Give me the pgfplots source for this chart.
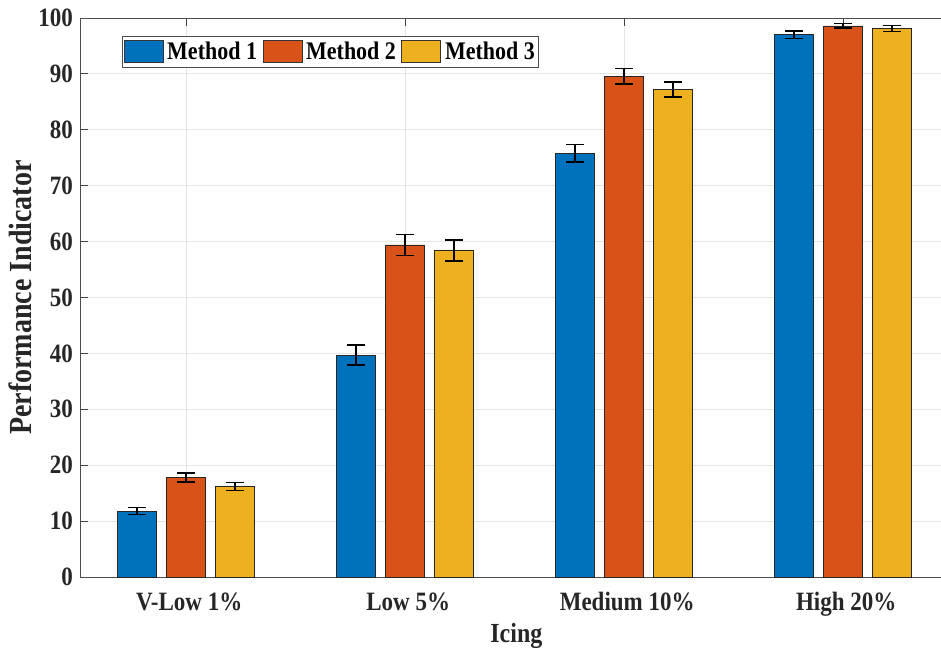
\documentclass[border=0pt]{standalone}
\usepackage{graphicx}
\usepackage{pgfplots}
\pgfplotsset{compat=1.18}
\usepackage{pgfplotstable}
\usepackage{fontspec}
\setmainfont{Liberation Serif}
\newcommand\st[1]{\scalebox{1}[1.15]{#1}}
\definecolor{m1}{rgb}{0,0.447,0.741}
\definecolor{m2}{rgb}{0.85,0.325,0.098}
\definecolor{m3}{rgb}{0.929,0.694,0.125}
\pgfplotstableread{
x y e
0 11.8 0.65
1 39.7 1.8
2 75.8 1.6
3 97.0 0.7
}\mone
\pgfplotstableread{
x y e
0 17.8 0.8
1 59.4 1.9
2 89.6 1.4
3 98.6 0.4
}\mtwo
\pgfplotstableread{
x y e
0 16.2 0.7
1 58.4 1.85
2 87.2 1.35
3 98.1 0.55
}\mthree
\begin{document}
\begin{tikzpicture}
\begin{axis}[
  at={(0pt,0pt)}, anchor=south west,
  scale only axis,
  width=872.7pt, height=559pt,
  xmin=-0.485, xmax=3.5,
  ymin=0, ymax=100,
  ytick={0,10,...,100},
  xtick={0,1,2,3},
  xticklabels={\st{V-Low 1\%}, \st{Low 5\%}, \st{Medium 10\%}, \st{High 20\%}},
  yticklabel={\st{\pgfmathprintnumber{\tick}}},
  ybar=10pt, bar width=39pt,
  tick align=inside,
  major tick length=8pt,
  tick style={black!75, line width=0.8pt},
  axis line style={black!70, line width=0.8pt},
  grid=major,
  grid style={black!10, line width=0.8pt},
  tick label style={font=\fontsize{23}{25}\selectfont\bfseries, text=black!85},
  xticklabel style={anchor=base, yshift=-33pt, xshift=3pt, inner sep=0pt},
  yticklabel style={anchor=east, xshift=-7pt, inner sep=0pt},
  /pgf/number format/assume math mode=true,
  xlabel={\st{Icing}},
  ylabel={\st{Performance Indicator}},
  xlabel style={font=\fontsize{24}{26}\selectfont\bfseries, text=black!85, at={(axis description cs:0.5,0)}, anchor=base, yshift=-65pt, inner sep=0pt},
  ylabel style={font=\fontsize{28}{30}\selectfont\bfseries, text=black!85, at={(axis description cs:-0.0553,0.5)}, anchor=base, inner sep=0pt},
  legend style={at={(axis description cs:0.0478,0.9683)}, anchor=north west, legend columns=3,
    font=\fontsize{22}{24}\selectfont\bfseries, draw=black!70, line width=0.8pt,
    inner xsep=1.5pt, inner ysep=4pt, row sep=0pt,
    /tikz/every odd column/.append style={column sep=2pt},
    /tikz/every even column/.append style={column sep=3.5pt}},
  legend image code/.code={\draw[#1, draw=black!80, line width=0.6pt] (0pt,-11pt) rectangle (39pt,11pt);},
  error bars/y dir=both, error bars/y explicit,
  error bars/error bar style={line width=1.5pt, black},
  error bars/error mark options={rotate=90, mark size=9pt, line width=1.5pt, black},
]
\addplot[fill=m1, draw=black!85, line width=0.6pt] table[x=x, y=y, y error=e] {\mone};
\addplot[fill=m2, draw=black!85, line width=0.6pt] table[x=x, y=y, y error=e] {\mtwo};
\addplot[fill=m3, draw=black!85, line width=0.6pt] table[x=x, y=y, y error=e] {\mthree};
\legend{\st{Method 1}, \st{Method 2}, \st{Method 3}}
\end{axis}
\pgfresetboundingbox
\path (-80pt,-70pt) rectangle (861pt,577pt);
\end{tikzpicture}
\end{document}
